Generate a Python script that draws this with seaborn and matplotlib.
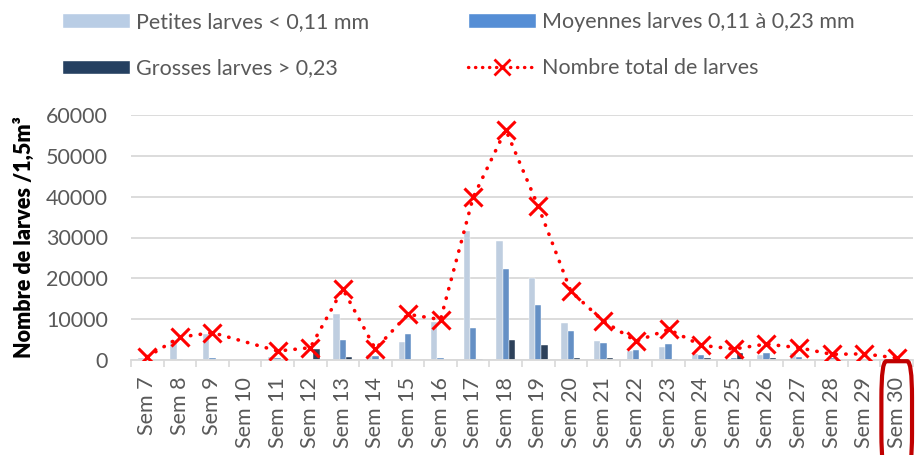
import numpy as np
import pandas as pd
import matplotlib
matplotlib.use("Agg")
import matplotlib.pyplot as plt
import matplotlib.transforms as mtransforms
from matplotlib.patches import FancyBboxPatch, Patch
from matplotlib.lines import Line2D
import seaborn as sns

# Data
semaines = [f"Sem {i}" for i in range(7, 31)]
petites = [400, 5000, 6400, np.nan, 800, 0, 11300, 1300, 4300, 9300, 31500, 29100,
           20000, 9000, 4600, 2200, 3200, 1400, 300, 1200, 1700, 300, 100, 100]
moyennes = [100, 300, 400, np.nan, 600, 100, 4900, 1100, 6400, 500, 7800, 22200,
            13400, 7200, 4100, 2400, 3800, 1200, 500, 1700, 800, 500, 300, 100]
grosses = [0, 0, 0, np.nan, 200, 2800, 800, 100, 0, 0, 300, 4900,
           3700, 400, 400, 100, 300, 400, 1700, 400, 100, 0, 0, 0]
total = [800, 5600, 6700, np.nan, 2200, 3000, 17400, 2700, 11200, 9900, 39800, 56400,
         37600, 16800, 9500, 4600, 7500, 3600, 2700, 3900, 3000, 1400, 1500, 500]

lab_p = "Petites larves < 0,11 mm"
lab_m = "Moyennes larves 0,11 à 0,23 mm"
lab_g = "Grosses larves > 0,23"
lab_t = "Nombre total de larves"

colors = {lab_p: "#B9CDE5", lab_m: "#558ED5", lab_g: "#254061"}

df = pd.DataFrame({"Semaine": semaines, lab_p: petites, lab_m: moyennes, lab_g: grosses})
long = df.melt(id_vars="Semaine", var_name="Classe", value_name="Nombre").dropna()

tot = pd.DataFrame({"Semaine": semaines, "Total": total})
tot["pos"] = [semaines.index(s) for s in tot["Semaine"]]
tot = tot.dropna()

sns.set_theme(style="white")
plt.rcParams["font.family"] = ["Lato", "DejaVu Sans"]
grey = "#595959"
fs = 15.5

fig = plt.figure(figsize=(9.19, 4.55), dpi=100)
ax = fig.add_axes([131 / 919, 1 - 360 / 455, (913 - 131) / 919, 245 / 455])

sns.barplot(data=long, x="Semaine", y="Nombre", hue="Classe", order=semaines,
            hue_order=[lab_p, lab_m, lab_g], palette=colors, width=0.58,
            edgecolor="white", linewidth=0.3, ax=ax, legend=False)

sns.lineplot(data=tot, x="pos", y="Total", ax=ax, color="#FF0000", sort=False,
             linestyle=(0, (0.1, 2.6)), linewidth=2.6, dash_capstyle="round",
             marker="x", markersize=12.5, markeredgewidth=2.2, markeredgecolor="#FF0000",
             zorder=5, legend=False)

ax.set_xlim(-0.5, len(semaines) - 0.5)
ax.set_ylim(0, 60000)
ax.set_yticks(range(0, 60001, 10000))
ax.yaxis.grid(True, color="#D9D9D9", linewidth=1.3)
ax.set_axisbelow(True)
for s in ["top", "right", "left"]:
    ax.spines[s].set_visible(False)
ax.spines["bottom"].set_color("#D9D9D9")
ax.spines["bottom"].set_linewidth(1.3)

ax.set_xlabel("")
ax.set_ylabel("Nombre de larves /1,5m³", fontsize=15.5, fontweight="heavy", color="black")
ax.yaxis.set_label_coords(-96 / 782, 0.50)
ax.set_xticks(range(len(semaines)))
ax.set_xticklabels(semaines, rotation=90, fontsize=fs, color=grey)
ax.set_xticks(np.arange(-0.5, len(semaines), 1), minor=True)
ax.tick_params(axis="x", which="major", length=0, pad=12)
ax.tick_params(axis="x", which="minor", length=5, width=1.2, color="#D9D9D9", bottom=True)
ax.tick_params(axis="y", length=0, labelsize=fs, labelcolor=grey, pad=16.5)

# Highlight box around the last week
trans = mtransforms.blended_transform_factory(ax.transData, ax.transAxes)
box = FancyBboxPatch((len(semaines) - 1.5 + 0.03, -0.45), 0.94, 0.445,
                     boxstyle="round,pad=0,rounding_size=0.15", transform=trans,
                     fill=False, edgecolor="#C00000", linewidth=3, clip_on=False, zorder=6)
ax.add_patch(box)

leg_kw = dict(loc="upper left", frameon=False, fontsize=fs, labelcolor=grey,
              handlelength=3.15, handleheight=0.65, handletextpad=0.3,
              labelspacing=1.22, borderpad=0, borderaxespad=0)
h_left = [Patch(facecolor=colors[lab_p], label=lab_p),
          Patch(facecolor=colors[lab_g], label=lab_g)]
h_right = [Patch(facecolor=colors[lab_m], label=lab_m),
           Line2D([], [], color="#FF0000", linestyle=(0, (0.1, 2.0)), linewidth=2.4,
                  dash_capstyle="round", marker="x", markersize=11, markeredgewidth=2,
                  label=lab_t)]
fig.legend(handles=h_left, bbox_to_anchor=(62 / 919, 1 - 12 / 455), **leg_kw)
fig.legend(handles=h_right, bbox_to_anchor=(468 / 919, 1 - 12 / 455), **leg_kw)

fig.savefig("out.png", dpi=100)
